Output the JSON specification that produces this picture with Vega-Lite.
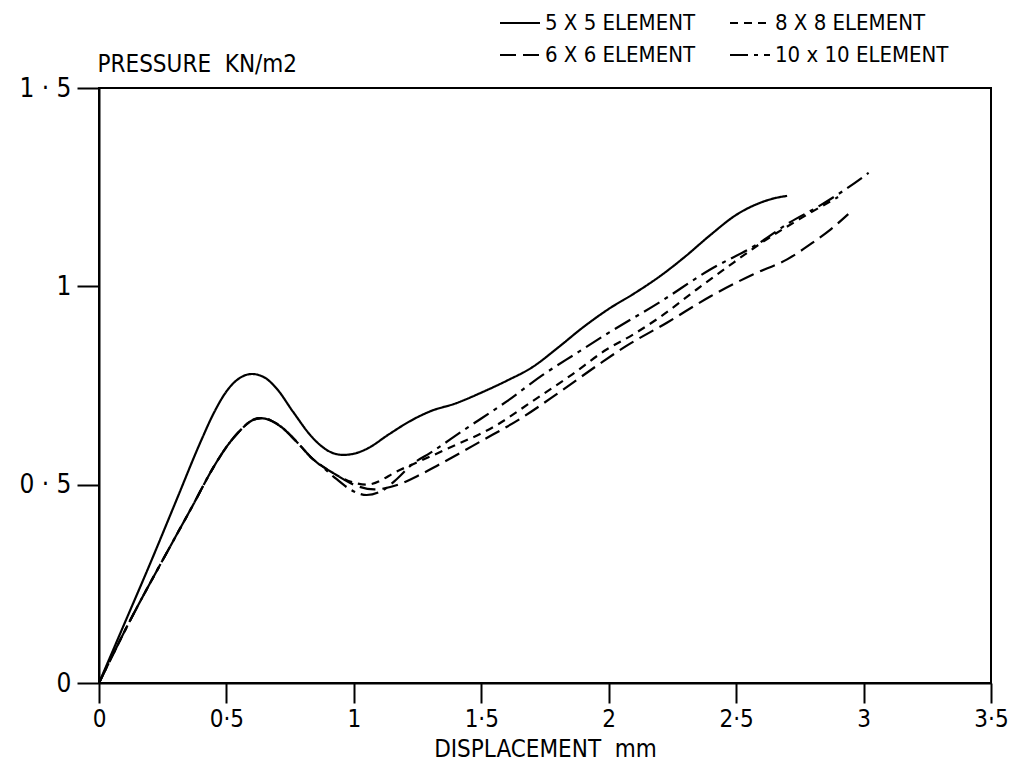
{
  "$schema": "https://vega.github.io/schema/vega-lite/v6.json",
  "width": 892,
  "height": 595,
  "autosize": {"type": "none"},
  "padding": {"left": 99, "top": 88, "right": 22, "bottom": 90},
  "background": "white",
  "config": {
    "view": {"stroke": "black", "strokeWidth": 2},
    "font": "DejaVu Sans Condensed, Liberation Sans Narrow, DejaVu Sans, sans-serif"
  },
  "data": {
    "values": [
      {"series": "5 X 5 ELEMENT", "x": 0, "y": 0},
      {"series": "5 X 5 ELEMENT", "x": 0.1, "y": 0.15},
      {"series": "5 X 5 ELEMENT", "x": 0.2, "y": 0.3},
      {"series": "5 X 5 ELEMENT", "x": 0.3, "y": 0.455},
      {"series": "5 X 5 ELEMENT", "x": 0.4, "y": 0.61},
      {"series": "5 X 5 ELEMENT", "x": 0.45, "y": 0.68},
      {"series": "5 X 5 ELEMENT", "x": 0.5, "y": 0.735},
      {"series": "5 X 5 ELEMENT", "x": 0.55, "y": 0.768},
      {"series": "5 X 5 ELEMENT", "x": 0.6, "y": 0.779},
      {"series": "5 X 5 ELEMENT", "x": 0.65, "y": 0.77},
      {"series": "5 X 5 ELEMENT", "x": 0.7, "y": 0.74},
      {"series": "5 X 5 ELEMENT", "x": 0.76, "y": 0.685},
      {"series": "5 X 5 ELEMENT", "x": 0.84, "y": 0.617},
      {"series": "5 X 5 ELEMENT", "x": 0.9, "y": 0.585},
      {"series": "5 X 5 ELEMENT", "x": 0.957, "y": 0.575},
      {"series": "5 X 5 ELEMENT", "x": 1.0, "y": 0.578},
      {"series": "5 X 5 ELEMENT", "x": 1.05, "y": 0.59},
      {"series": "5 X 5 ELEMENT", "x": 1.14, "y": 0.628},
      {"series": "5 X 5 ELEMENT", "x": 1.22, "y": 0.66},
      {"series": "5 X 5 ELEMENT", "x": 1.3, "y": 0.685},
      {"series": "5 X 5 ELEMENT", "x": 1.4, "y": 0.705},
      {"series": "5 X 5 ELEMENT", "x": 1.5, "y": 0.732},
      {"series": "5 X 5 ELEMENT", "x": 1.6, "y": 0.762},
      {"series": "5 X 5 ELEMENT", "x": 1.7, "y": 0.796},
      {"series": "5 X 5 ELEMENT", "x": 1.8, "y": 0.845},
      {"series": "5 X 5 ELEMENT", "x": 1.9, "y": 0.897},
      {"series": "5 X 5 ELEMENT", "x": 2.0, "y": 0.943},
      {"series": "5 X 5 ELEMENT", "x": 2.1, "y": 0.982},
      {"series": "5 X 5 ELEMENT", "x": 2.2, "y": 1.025},
      {"series": "5 X 5 ELEMENT", "x": 2.3, "y": 1.075},
      {"series": "5 X 5 ELEMENT", "x": 2.4, "y": 1.13},
      {"series": "5 X 5 ELEMENT", "x": 2.5, "y": 1.18},
      {"series": "5 X 5 ELEMENT", "x": 2.6, "y": 1.212},
      {"series": "5 X 5 ELEMENT", "x": 2.65, "y": 1.222},
      {"series": "5 X 5 ELEMENT", "x": 2.7, "y": 1.228},

      {"series": "6 X 6 ELEMENT", "x": 0, "y": 0},
      {"series": "6 X 6 ELEMENT", "x": 0.12, "y": 0.155},
      {"series": "6 X 6 ELEMENT", "x": 0.25, "y": 0.31},
      {"series": "6 X 6 ELEMENT", "x": 0.37, "y": 0.45},
      {"series": "6 X 6 ELEMENT", "x": 0.45, "y": 0.545},
      {"series": "6 X 6 ELEMENT", "x": 0.5, "y": 0.595},
      {"series": "6 X 6 ELEMENT", "x": 0.55, "y": 0.634},
      {"series": "6 X 6 ELEMENT", "x": 0.6, "y": 0.662},
      {"series": "6 X 6 ELEMENT", "x": 0.635, "y": 0.668},
      {"series": "6 X 6 ELEMENT", "x": 0.68, "y": 0.66},
      {"series": "6 X 6 ELEMENT", "x": 0.72, "y": 0.643},
      {"series": "6 X 6 ELEMENT", "x": 0.78, "y": 0.605},
      {"series": "6 X 6 ELEMENT", "x": 0.84, "y": 0.564},
      {"series": "6 X 6 ELEMENT", "x": 0.88, "y": 0.545},
      {"series": "6 X 6 ELEMENT", "x": 0.93, "y": 0.525},
      {"series": "6 X 6 ELEMENT", "x": 1.0, "y": 0.5},
      {"series": "6 X 6 ELEMENT", "x": 1.08, "y": 0.488},
      {"series": "6 X 6 ELEMENT", "x": 1.17, "y": 0.499},
      {"series": "6 X 6 ELEMENT", "x": 1.25, "y": 0.522},
      {"series": "6 X 6 ELEMENT", "x": 1.33, "y": 0.549},
      {"series": "6 X 6 ELEMENT", "x": 1.5, "y": 0.61},
      {"series": "6 X 6 ELEMENT", "x": 1.65, "y": 0.665},
      {"series": "6 X 6 ELEMENT", "x": 1.8, "y": 0.73},
      {"series": "6 X 6 ELEMENT", "x": 1.965, "y": 0.805},
      {"series": "6 X 6 ELEMENT", "x": 2.06, "y": 0.846},
      {"series": "6 X 6 ELEMENT", "x": 2.23, "y": 0.909},
      {"series": "6 X 6 ELEMENT", "x": 2.4, "y": 0.975},
      {"series": "6 X 6 ELEMENT", "x": 2.566, "y": 1.03},
      {"series": "6 X 6 ELEMENT", "x": 2.7, "y": 1.068},
      {"series": "6 X 6 ELEMENT", "x": 2.8, "y": 1.11},
      {"series": "6 X 6 ELEMENT", "x": 2.87, "y": 1.143},
      {"series": "6 X 6 ELEMENT", "x": 2.94, "y": 1.182},

      {"series": "8 X 8 ELEMENT", "x": 0, "y": 0},
      {"series": "8 X 8 ELEMENT", "x": 0.12, "y": 0.155},
      {"series": "8 X 8 ELEMENT", "x": 0.25, "y": 0.31},
      {"series": "8 X 8 ELEMENT", "x": 0.37, "y": 0.45},
      {"series": "8 X 8 ELEMENT", "x": 0.45, "y": 0.545},
      {"series": "8 X 8 ELEMENT", "x": 0.5, "y": 0.595},
      {"series": "8 X 8 ELEMENT", "x": 0.55, "y": 0.634},
      {"series": "8 X 8 ELEMENT", "x": 0.6, "y": 0.662},
      {"series": "8 X 8 ELEMENT", "x": 0.635, "y": 0.668},
      {"series": "8 X 8 ELEMENT", "x": 0.68, "y": 0.66},
      {"series": "8 X 8 ELEMENT", "x": 0.72, "y": 0.643},
      {"series": "8 X 8 ELEMENT", "x": 0.78, "y": 0.605},
      {"series": "8 X 8 ELEMENT", "x": 0.84, "y": 0.564},
      {"series": "8 X 8 ELEMENT", "x": 0.88, "y": 0.545},
      {"series": "8 X 8 ELEMENT", "x": 0.93, "y": 0.525},
      {"series": "8 X 8 ELEMENT", "x": 1.0, "y": 0.505},
      {"series": "8 X 8 ELEMENT", "x": 1.05, "y": 0.5},
      {"series": "8 X 8 ELEMENT", "x": 1.18, "y": 0.537},
      {"series": "8 X 8 ELEMENT", "x": 1.365, "y": 0.59},
      {"series": "8 X 8 ELEMENT", "x": 1.56, "y": 0.65},
      {"series": "8 X 8 ELEMENT", "x": 1.7, "y": 0.71},
      {"series": "8 X 8 ELEMENT", "x": 1.85, "y": 0.775},
      {"series": "8 X 8 ELEMENT", "x": 1.99, "y": 0.84},
      {"series": "8 X 8 ELEMENT", "x": 2.1, "y": 0.88},
      {"series": "8 X 8 ELEMENT", "x": 2.2, "y": 0.922},
      {"series": "8 X 8 ELEMENT", "x": 2.345, "y": 0.992},
      {"series": "8 X 8 ELEMENT", "x": 2.49, "y": 1.06},
      {"series": "8 X 8 ELEMENT", "x": 2.6, "y": 1.11},
      {"series": "8 X 8 ELEMENT", "x": 2.75, "y": 1.17},
      {"series": "8 X 8 ELEMENT", "x": 2.9, "y": 1.225},

      {"series": "10 x 10 ELEMENT", "x": 0, "y": 0},
      {"series": "10 x 10 ELEMENT", "x": 0.12, "y": 0.155},
      {"series": "10 x 10 ELEMENT", "x": 0.25, "y": 0.31},
      {"series": "10 x 10 ELEMENT", "x": 0.37, "y": 0.45},
      {"series": "10 x 10 ELEMENT", "x": 0.45, "y": 0.545},
      {"series": "10 x 10 ELEMENT", "x": 0.5, "y": 0.595},
      {"series": "10 x 10 ELEMENT", "x": 0.55, "y": 0.634},
      {"series": "10 x 10 ELEMENT", "x": 0.6, "y": 0.662},
      {"series": "10 x 10 ELEMENT", "x": 0.635, "y": 0.668},
      {"series": "10 x 10 ELEMENT", "x": 0.68, "y": 0.66},
      {"series": "10 x 10 ELEMENT", "x": 0.72, "y": 0.643},
      {"series": "10 x 10 ELEMENT", "x": 0.78, "y": 0.605},
      {"series": "10 x 10 ELEMENT", "x": 0.84, "y": 0.564},
      {"series": "10 x 10 ELEMENT", "x": 0.88, "y": 0.543},
      {"series": "10 x 10 ELEMENT", "x": 0.93, "y": 0.515},
      {"series": "10 x 10 ELEMENT", "x": 1.0, "y": 0.483},
      {"series": "10 x 10 ELEMENT", "x": 1.05, "y": 0.474},
      {"series": "10 x 10 ELEMENT", "x": 1.114, "y": 0.486},
      {"series": "10 x 10 ELEMENT", "x": 1.17, "y": 0.515},
      {"series": "10 x 10 ELEMENT", "x": 1.23, "y": 0.552},
      {"series": "10 x 10 ELEMENT", "x": 1.3, "y": 0.58},
      {"series": "10 x 10 ELEMENT", "x": 1.43, "y": 0.637},
      {"series": "10 x 10 ELEMENT", "x": 1.6, "y": 0.71},
      {"series": "10 x 10 ELEMENT", "x": 1.74, "y": 0.776},
      {"series": "10 x 10 ELEMENT", "x": 1.87, "y": 0.83},
      {"series": "10 x 10 ELEMENT", "x": 1.99, "y": 0.879},
      {"series": "10 x 10 ELEMENT", "x": 2.2, "y": 0.96},
      {"series": "10 x 10 ELEMENT", "x": 2.4, "y": 1.043},
      {"series": "10 x 10 ELEMENT", "x": 2.58, "y": 1.105},
      {"series": "10 x 10 ELEMENT", "x": 2.71, "y": 1.161},
      {"series": "10 x 10 ELEMENT", "x": 2.83, "y": 1.204},
      {"series": "10 x 10 ELEMENT", "x": 2.93, "y": 1.245},
      {"series": "10 x 10 ELEMENT", "x": 3.02, "y": 1.286}
    ]
  },
  "mark": {"type": "line", "interpolate": "monotone", "strokeWidth": 2.2, "color": "black"},
  "encoding": {
    "x": {
      "field": "x",
      "type": "quantitative",
      "scale": {"domain": [0, 3.5], "nice": false, "zero": false},
      "axis": {
        "values": [0, 0.5, 1, 1.5, 2, 2.5, 3, 3.5],
        "labelExpr": "replace(format(datum.value, '.1~f'), '.', '·')",
        "grid": false,
        "domainColor": "black",
        "domainWidth": 2,
        "tickColor": "black",
        "tickWidth": 2,
        "tickSize": 20,
        "labelFontSize": 24,
        "labelColor": "black",
        "labelPadding": 4,
        "labelFlush": false,
        "title": "DISPLACEMENT\u00a0\u00a0mm",
        "titleFontSize": 24,
        "titleFontWeight": "normal",
        "titleColor": "black",
        "titlePadding": 6
      }
    },
    "y": {
      "field": "y",
      "type": "quantitative",
      "scale": {"domain": [0, 1.5], "nice": false, "zero": false},
      "axis": {
        "values": [0, 0.5, 1, 1.5],
        "labelExpr": "replace(format(datum.value, '.1~f'), '.', ' · ')",
        "grid": false,
        "domainColor": "black",
        "domainWidth": 2,
        "tickColor": "black",
        "tickWidth": 2,
        "tickSize": 22,
        "labelFontSize": 26,
        "labelColor": "black",
        "labelPadding": 6,
        "labelFlush": false,
        "title": "PRESSURE\u00a0\u00a0KN/m2",
        "titleAngle": 0,
        "titleAlign": "left",
        "titleBaseline": "middle",
        "titleX": -2,
        "titleY": -24,
        "titleFontSize": 24,
        "titleFontWeight": "normal",
        "titleColor": "black"
      }
    },
    "strokeDash": {
      "field": "series",
      "type": "nominal",
      "scale": {
        "domain": ["5 X 5 ELEMENT", "8 X 8 ELEMENT", "6 X 6 ELEMENT", "10 x 10 ELEMENT"],
        "range": [[1, 0], [8, 6], [16, 7], [18, 6, 4, 6]]
      },
      "legend": {
        "title": null,
        "orient": "none",
        "legendX": 400,
        "legendY": -86,
        "direction": "horizontal",
        "columns": 2,
        "symbolType": "stroke",
        "symbolSize": 1600,
        "symbolStrokeWidth": 2,
        "symbolStrokeColor": "black",
        "labelFontSize": 22,
        "labelColor": "black",
        "labelLimit": 300,
        "columnPadding": 30,
        "rowPadding": -8
      }
    }
  }
}
